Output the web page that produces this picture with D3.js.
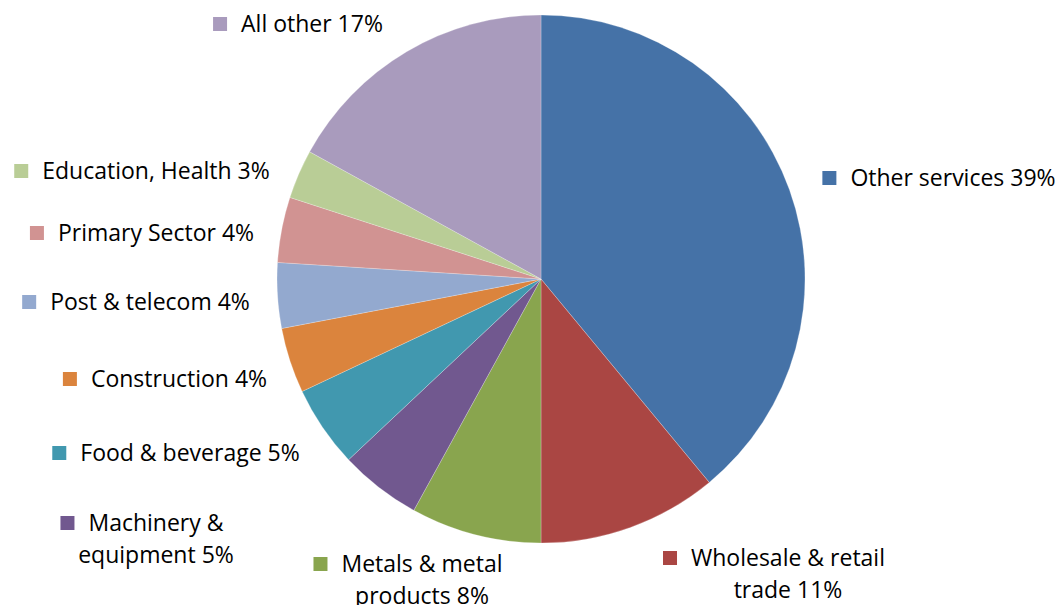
<!DOCTYPE html>
<html>
<head>
<meta charset="utf-8">
<script src="https://cdn.jsdelivr.net/npm/d3@7/dist/d3.min.js"></script>
<style>
  html, body { margin: 0; padding: 0; background: #ffffff; }
  svg { display: block; }
  .lbl { font-family: "Open Sans", "Noto Sans", sans-serif; font-size: 23px; fill: #000; }
</style>
</head>
<body>
<svg id="chart" width="1060" height="605"></svg>
<script>
// Share of output by sector (%), clockwise from 12 o'clock
const categories = [
  "Other services", "Wholesale & retail trade", "Metals & metal products",
  "Machinery & equipment", "Food & beverage", "Construction",
  "Post & telecom", "Primary Sector", "Education, Health", "All other"
];
const values = [39, 11, 8, 5, 5, 4, 4, 4, 3, 17];
const colors = [
  "#4572A7", "#AA4643", "#89A54E", "#71588F", "#4198AF",
  "#DB843D", "#93A9CF", "#D19392", "#B9CD96", "#A99BBD"
];

// Label placement: block centre x, first baseline y, wrap width
const labelLayout = [
  { cx: 953, y: 186, wrap: 400 },
  { cx: 788, y: 566, wrap: 220 },
  { cx: 422, y: 572, wrap: 190 },
  { cx: 156, y: 531, wrap: 160 },
  { cx: 190, y: 461, wrap: 400 },
  { cx: 179, y: 387, wrap: 400 },
  { cx: 150, y: 310, wrap: 400 },
  { cx: 156, y: 241, wrap: 400 },
  { cx: 156, y: 179, wrap: 400 },
  { cx: 312, y: 32,  wrap: 400 }
];

const svg = d3.select("#chart");
const cx = 541, cy = 279, radius = 264;
const lineHeight = 32, keySize = 14, keyGap = 14;

const pie = d3.pie().sort(null).value(d => d.value)
  .startAngle(0).endAngle(2 * Math.PI);
const arc = d3.arc().innerRadius(0).outerRadius(radius);

const data = categories.map((c, i) => ({ name: c, value: values[i], color: colors[i] }));

const g = svg.append("g").attr("transform", `translate(${cx},${cy})`);
g.selectAll("path")
  .data(pie(data))
  .join("path")
  .attr("d", arc)
  .attr("fill", d => d.data.color)
  .attr("stroke", "#ffffff")
  .attr("stroke-width", 0.4)
  .attr("stroke-opacity", 0.6);

// Wrap a label into lines no wider than maxW
const measure = svg.append("text").attr("class", "lbl").attr("visibility", "hidden");
function wrapText(str, maxW) {
  const words = str.split(" ");
  const lines = [];
  let cur = "";
  words.forEach(w => {
    const test = cur ? cur + " " + w : w;
    measure.text(test);
    if (cur && measure.node().getComputedTextLength() > maxW) {
      lines.push(cur);
      cur = w;
    } else {
      cur = test;
    }
  });
  if (cur) lines.push(cur);
  return lines;
}

data.forEach((d, i) => {
  const lay = labelLayout[i];
  const lines = wrapText(`${d.name} ${d.value}%`, lay.wrap);
  const grp = svg.append("g");
  let firstLeft = null;
  lines.forEach((ln, k) => {
    const t = grp.append("text")
      .attr("class", "lbl")
      .attr("x", lay.cx)
      .attr("y", lay.y + k * lineHeight)
      .attr("text-anchor", "middle")
      .text(ln);
    if (k === 0) firstLeft = lay.cx - t.node().getComputedTextLength() / 2;
  });
  grp.append("rect")
    .attr("x", firstLeft - keyGap - keySize)
    .attr("y", lay.y - keySize - 1)
    .attr("width", keySize)
    .attr("height", keySize)
    .attr("fill", d.color);
});
measure.remove();
</script>
</body>
</html>
